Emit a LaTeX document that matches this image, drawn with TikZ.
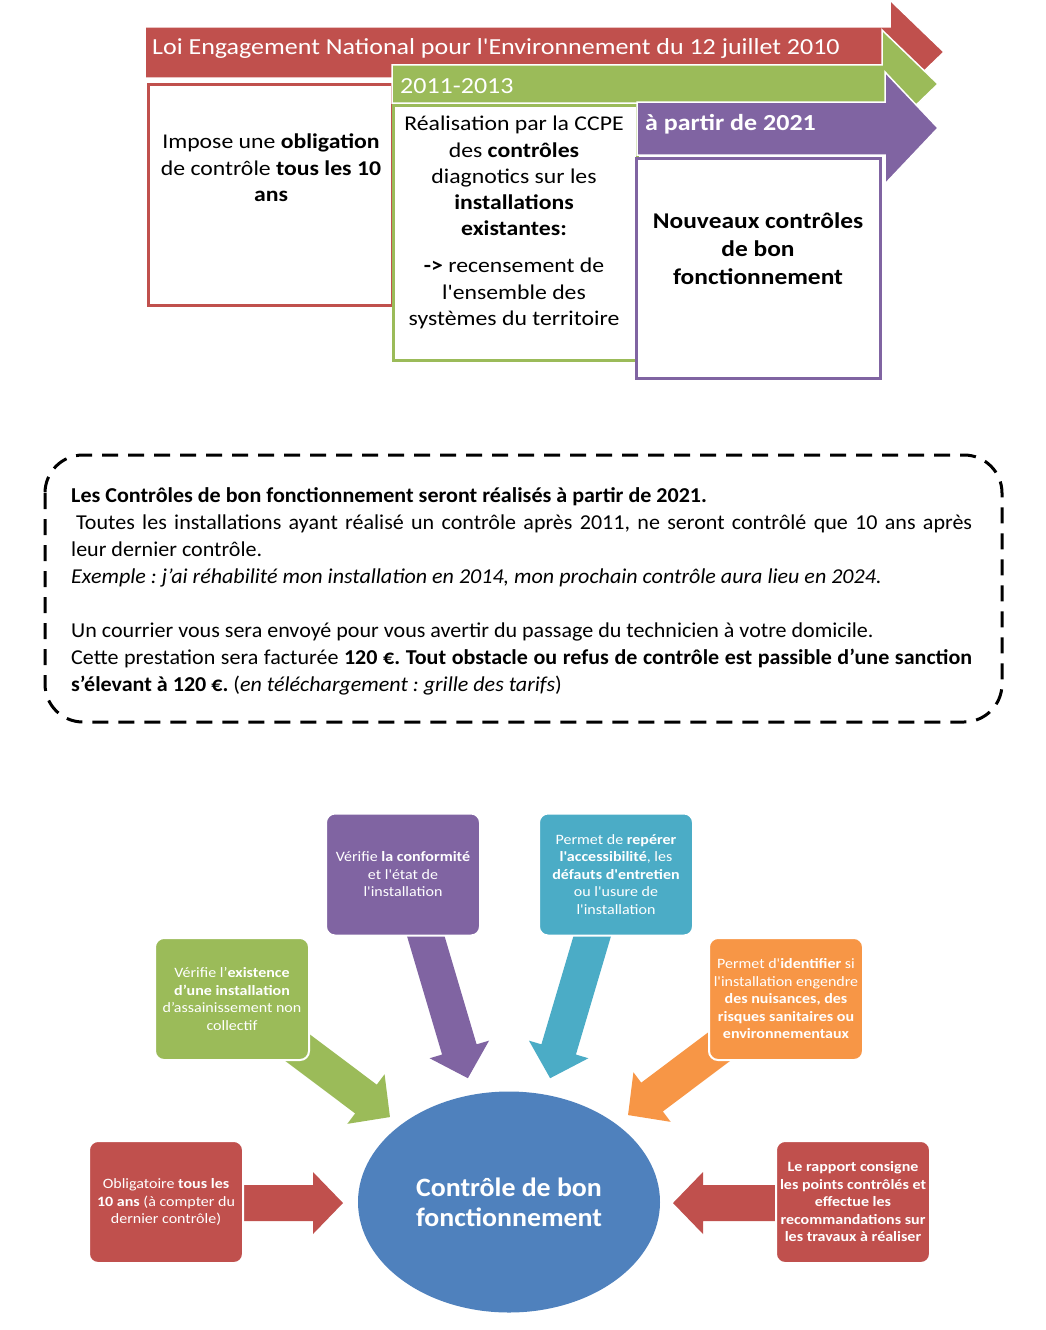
\documentclass[tikz,border=0pt]{standalone}
\usepackage{fontspec}
\setmainfont{Carlito}[Ligatures=TeXOff]
\newfontfamily\topfont{Carlito}[FakeStretch=1.13, Ligatures=TeXOff]
\newfontfamily\smallfont{Carlito}[FakeStretch=1.12, Ligatures=TeXOff]
\newfontfamily\ellfont{Carlito}[FakeStretch=1.05, Ligatures=TeXOff]
\newfontfamily\notefont{Carlito}[FakeStretch=1.04, Ligatures=TeXOff]
\usetikzlibrary{shapes.geometric}
\definecolor{cred}{HTML}{C0504D}
\definecolor{cgreen}{HTML}{9BBB59}
\definecolor{cpurple}{HTML}{8064A2}
\definecolor{cblue}{HTML}{4BACC6}
\definecolor{corange}{HTML}{F79646}
\definecolor{cellipse}{HTML}{4F81BD}
\newcommand\blockarrow[4]{\begin{scope}[shift={#2},rotate=#3]\fill[#1] (0,-18) -- ({#4-30},-18) -- ({#4-30},-31) -- (#4,0) -- ({#4-30},31) -- ({#4-30},18) -- (0,18) -- cycle;\end{scope}}
\begin{document}
\begin{tikzpicture}[x=1pt,y=-1pt,
  toptext/.style={font=\topfont\fontsize{21}{26.3}\selectfont, inner sep=0, align=center},
  bartext/.style={font=\topfont\fontsize{23}{26}\selectfont, inner sep=0, text=white, anchor=west},
  topbox/.style={line width=3, fill=white},
  topbar/.style={draw=white, line width=1.5},
  sbox/.style={rounded corners=9, draw=white, line width=2, text=white, minimum width=154, minimum height=122, align=center, font=\smallfont\fontsize{14.3}{17.5}\selectfont, inner sep=1}]
\useasboundingbox[fill=white] (0,0) rectangle (1045,1330);

% ---- timeline ----
\fill[cred, topbar] (145,27) -- (890,27) -- (890,0) -- (944,52) -- (890,104) -- (890,78) -- (145,78) -- cycle;
\node[bartext] (loi) at (152,48) {Loi Engagement National pour l'Environnement du 12 juillet 2010};
\draw[cred, topbox] (148,84) rectangle (392,305);
\node[toptext, anchor=north] (impose) at (271,134) {Impose une \textbf{obligation}\\de contrôle \textbf{tous les 10}\\\textbf{ans}};

\fill[cgreen, topbar] (392,65) -- (882,65) -- (882,30) -- (938,84) -- (882,138) -- (882,103) -- (392,103) -- cycle;
\node[bartext] (y2011) at (400,86) {2011-2013};
\draw[cgreen, topbox] (393,105) rectangle (637,360);
\node[toptext, anchor=north] (realis) at (514,116) {Réalisation par la CCPE\\des \textbf{contrôles}\\diagnotics sur les\\\textbf{installations}\\\textbf{existantes:}\\[10.5pt]\textbf{->} recensement de\\l'ensemble des\\systèmes du territoire};

\fill[cpurple, topbar] (637,102) -- (885,102) -- (885,72) -- (938,128) -- (885,184) -- (885,155) -- (637,155) -- cycle;
\node[bartext, font=\topfont\bfseries\fontsize{23}{26}\selectfont] (y2021) at (645,124) {à partir de 2021};
\draw[cpurple, topbox] (636,158) rectangle (880,378);
\node[toptext, anchor=north, font=\topfont\bfseries\fontsize{22.5}{28}\selectfont] (nouveaux) at (758,213) {Nouveaux contrôles\\de bon\\fonctionnement};

% ---- dashed notice ----
\draw[black, line width=3, dash pattern=on 16pt off 10pt, rounded corners=38] (45,455) rectangle (1002,722);
\node[anchor=north west, inner sep=0, text width=901, align=justify, font=\notefont\fontsize{21.2}{27}\selectfont\frenchspacing] (notice) at (71,487) {%
\textbf{Les Contrôles de bon fonctionnement seront réalisés à partir de 2021.}\\
\hspace*{5pt}Toutes les installations ayant réalisé un contrôle après 2011, ne seront contrôlé que 10 ans après\linebreak
leur dernier contrôle.\\
\textit{Exemple : j’ai réhabilité mon installation en 2014, mon prochain contrôle aura lieu en 2024.}\\[27pt]
Un courrier vous sera envoyé pour vous avertir du passage du technicien à votre domicile.\\
Cette prestation sera facturée \textbf{120 €. Tout obstacle ou refus de contrôle est passible d’une sanction}\linebreak
\textbf{s’élevant à 120 €.} (\textit{en téléchargement : grille des tarifs})};

% ---- bottom diagram ----
\blockarrow{cpurple}{(421,920)}{-73.5}{165}
\blockarrow{cblue}{(597,920)}{-106.5}{165}
\blockarrow{cgreen}{(286,1039)}{-36.9}{130}
\blockarrow{corange}{(732,1037)}{-143.1}{130}
\blockarrow{cred}{(235,1203)}{0}{108}
\blockarrow{cred}{(785,1203)}{180}{112}

\node[sbox, fill=cpurple] (verif) at (403,874.5) {Vérifie \textbf{la conformité}\\et l'état de\\l'installation};
\node[sbox, fill=cblue] (repere) at (616,874.5) {Permet de \textbf{repérer}\\\textbf{l'accessibilité}, les\\\textbf{défauts d'entretien}\\ou l'usure de\\l'installation};
\node[sbox, fill=cgreen] (exist) at (232,999) {Vérifie l’\textbf{existence}\\\textbf{d’une installation}\\d’assainissement non\\collectif};
\node[sbox, fill=corange] (ident) at (786,999) {Permet d'\textbf{identifier} si\\l'installation engendre\\\textbf{des nuisances, des}\\\textbf{risques sanitaires ou}\\\textbf{environnementaux}};
\node[sbox, fill=cred] (oblig) at (166,1202) {Obligatoire \textbf{tous les}\\\textbf{10 ans} (à compter du\\dernier contrôle)};
\node[sbox, fill=cred, font=\smallfont\bfseries\fontsize{14.3}{17.5}\selectfont] (rapport) at (853,1202) {Le rapport consigne\\les points contrôlés et\\effectue les\\recommandations sur\\les travaux à réaliser};

\node[ellipse, fill=cellipse, minimum width=302, minimum height=221, inner sep=0, text=white, align=center, font=\ellfont\bfseries\fontsize{26.5}{30}\selectfont] (centre) at (509,1202) {Contrôle de bon\\fonctionnement};
\end{tikzpicture}
\end{document}
